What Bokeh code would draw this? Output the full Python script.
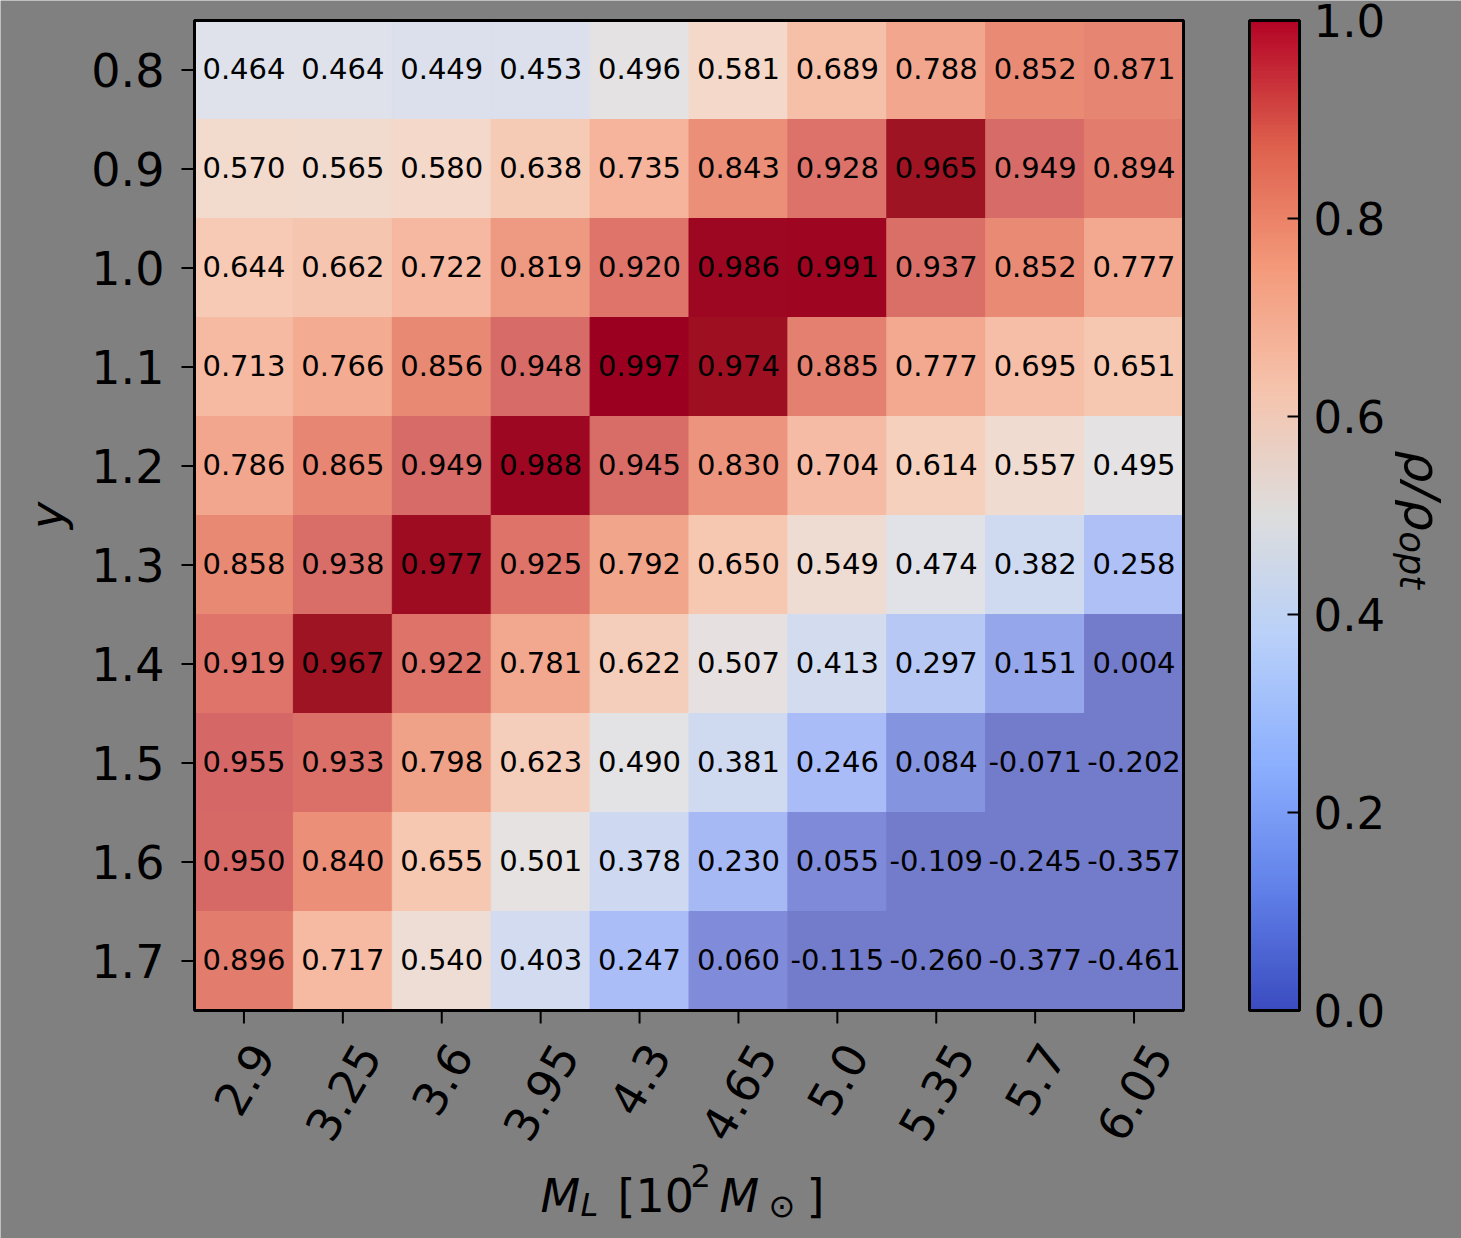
import math
import numpy as np
from bokeh.plotting import figure
from bokeh.models import (Range1d, FixedTicker, LinearColorMapper, ColorBar,
                          PrintfTickFormatter, ColumnDataSource)
from bokeh.core.properties import value
from bokeh.embed import file_html
from bokeh.resources import INLINE

# ---------------- data ----------------
ml_labels = ["2.9", "3.25", "3.6", "3.95", "4.3", "4.65", "5.0", "5.35", "5.7", "6.05"]
y_labels = ["0.8", "0.9", "1.0", "1.1", "1.2", "1.3", "1.4", "1.5", "1.6", "1.7"]

row_08 = [0.464, 0.464, 0.449, 0.453, 0.496, 0.581, 0.689, 0.788, 0.852, 0.871]
row_09 = [0.570, 0.565, 0.580, 0.638, 0.735, 0.843, 0.928, 0.965, 0.949, 0.894]
row_10 = [0.644, 0.662, 0.722, 0.819, 0.920, 0.986, 0.991, 0.937, 0.852, 0.777]
row_11 = [0.713, 0.766, 0.856, 0.948, 0.997, 0.974, 0.885, 0.777, 0.695, 0.651]
row_12 = [0.786, 0.865, 0.949, 0.988, 0.945, 0.830, 0.704, 0.614, 0.557, 0.495]
row_13 = [0.858, 0.938, 0.977, 0.925, 0.792, 0.650, 0.549, 0.474, 0.382, 0.258]
row_14 = [0.919, 0.967, 0.922, 0.781, 0.622, 0.507, 0.413, 0.297, 0.151, 0.004]
row_15 = [0.955, 0.933, 0.798, 0.623, 0.490, 0.381, 0.246, 0.084, -0.071, -0.202]
row_16 = [0.950, 0.840, 0.655, 0.501, 0.378, 0.230, 0.055, -0.109, -0.245, -0.357]
row_17 = [0.896, 0.717, 0.540, 0.403, 0.247, 0.060, -0.115, -0.260, -0.377, -0.461]
rows = [row_08, row_09, row_10, row_11, row_12, row_13, row_14, row_15, row_16, row_17]

cbar_ticks = [0.0, 0.2, 0.4, 0.6, 0.8, 1.0]

# ---------------- palettes (style) ----------------
def make_palette(anchors, n=256):
    xs = np.array([a[0] for a in anchors])
    cols = np.array([a[1] for a in anchors], dtype=float)
    t = np.linspace(0, 1, n)
    out = []
    for tt in t:
        r = np.interp(tt, xs, cols[:, 0])
        g = np.interp(tt, xs, cols[:, 1])
        b = np.interp(tt, xs, cols[:, 2])
        out.append("#%02x%02x%02x" % (int(round(r)), int(round(g)), int(round(b))))
    return out

coolwarm_anchors = [
    (0.0, (59, 76, 192)), (0.125, (98, 130, 234)), (0.25, (141, 176, 254)),
    (0.375, (184, 208, 249)), (0.5, (221, 221, 221)), (0.625, (245, 196, 173)),
    (0.75, (244, 154, 123)), (0.875, (222, 96, 77)), (1.0, (180, 4, 38)),
]
cell_anchors = [
    (0.0, (115, 124, 203)), (0.03, (115, 124, 203)), (0.055, (127, 139, 217)),
    (0.084, (133, 149, 222)), (0.151, (150, 168, 234)), (0.246, (171, 189, 247)),
    (0.297, (184, 200, 244)), (0.381, (207, 217, 240)), (0.413, (211, 220, 239)),
    (0.464, (223, 226, 235)), (0.50, (229, 226, 226)), (0.581, (244, 216, 201)),
    (0.65, (246, 200, 178)), (0.72, (246, 184, 160)), (0.79, (241, 166, 140)),
    (0.85, (234, 140, 118)), (0.885, (228, 128, 111)), (0.92, (222, 117, 106)),
    (0.957, (213, 104, 102)), (0.962, (160, 24, 34)), (1.0, (156, 0, 32)),
]
coolwarm = make_palette(coolwarm_anchors)
cell_pal = make_palette(cell_anchors)

# ---------------- layout constants (pixels) ----------------
W, H = 1461, 1238
LEFT, TOP = 194, 20          # heatmap frame corner
CW, CH = 98.9, 99.0          # cell size in px
ncol, nrow = len(ml_labels), len(y_labels)

x0 = -0.5 - LEFT / CW
y0 = -0.5 - TOP / CH
BG = "#808080"

p = figure(width=W, height=H,
           x_range=Range1d(x0, x0 + W / CW), y_range=Range1d(y0 + H / CH, y0),
           output_backend="svg", toolbar_location=None,
           x_axis_location=None, y_axis_location=None, min_border=0)
p.border_fill_color = BG
p.background_fill_color = BG
p.outline_line_color = None
p.grid.visible = False


def dx(px):
    return x0 + px / CW


def dy(py):
    return y0 + py / CH


FONT = value("DejaVu Sans")

# ---------------- heatmap ----------------
xs, ys, vs, ts = [], [], [], []
for r, row in enumerate(rows):
    for c, v in enumerate(row):
        xs.append(c)
        ys.append(r)
        vs.append(v)
        ts.append("%.3f" % v)
src = ColumnDataSource(dict(x=xs, y=ys, v=vs, t=ts))

cell_mapper = LinearColorMapper(palette=cell_pal, low=0.0, high=1.0,
                                low_color=cell_pal[0], high_color=cell_pal[-1])
p.rect(x="x", y="y", width=1, height=1, source=src,
       fill_color={"field": "v", "transform": cell_mapper},
       line_color={"field": "v", "transform": cell_mapper}, line_width=1)
p.text(x="x", y="y", text="t", source=src, text_align="center",
       text_baseline="middle", text_font=FONT, y_offset=-2,
       text_font_size=value("29px"), text_color="black")

# frame
p.rect(x=[(ncol - 1) / 2], y=[(nrow - 1) / 2], width=ncol, height=nrow,
       fill_color=None, line_color="black", line_width=3)

# ---------------- ticks ----------------
tick_len = 13
yt = list(range(nrow))
p.segment(x0=[dx(LEFT - tick_len)] * nrow, x1=[-0.5] * nrow, y0=yt, y1=yt,
          line_color="black", line_width=2)
p.text(x=[dx(LEFT - 30)] * nrow, y=yt, text=y_labels, text_align="right",
       text_baseline="middle", text_font=FONT, text_font_size=value("46px"),
       text_color="black")

xt = list(range(ncol))
p.segment(x0=xt, x1=xt, y0=[nrow - 0.5] * ncol, y1=[dy(TOP + nrow * CH + tick_len)] * ncol,
          line_color="black", line_width=2)

fs = 46
cw = {".": 0.318}
ang = math.pi / 3
lab_y = []
for s in ml_labels:
    w = sum(cw.get(ch, 0.636) for ch in s) * fs
    hbox = w * math.sin(ang) + 52 * math.cos(ang)
    lab_y.append(dy(1034 + hbox / 2))
p.text(x=xt, y=lab_y, text=ml_labels, angle=ang, text_align="center",
       text_baseline="middle", text_font=FONT, text_font_size=value("46px"),
       text_color="black")


# ---------------- axis titles ----------------
def lab(text, rx, ry, size, italic=False, angle=0.0, align="left", baseline="alphabetic"):
    p.text(x=[dx(rx)], y=[dy(ry)], text=[text], text_font=FONT,
           text_font_size=value(size),
           text_font_style="italic" if italic else "normal",
           text_color="black", angle=angle, text_align=align, text_baseline=baseline)


lab("M", 540, 1195, "46px", italic=True)
lab("L", 580, 1204, "32px", italic=True)
lab("[10", 617, 1195, "46px")
lab("2", 690, 1175, "32px")
lab("M", 719, 1195, "46px", italic=True)
lab("\u2299", 768, 1205, "32px")
lab("]", 806, 1195, "46px")

lab("y", 46, 515, "46px", italic=True, angle=math.pi / 2, align="center", baseline="middle")

lab("\u03c1/\u03c1", 1421, 450, "50px", italic=True, angle=-math.pi / 2)
lab("opt", 1411, 531, "35px", italic=True, angle=-math.pi / 2)

# ---------------- colorbar ----------------
cb_mapper = LinearColorMapper(palette=coolwarm, low=0.0, high=1.0)
cb = ColorBar(color_mapper=cb_mapper, ticker=FixedTicker(ticks=cbar_ticks),
              formatter=PrintfTickFormatter(format="%.1f"),
              width=50, height=990, padding=0, margin=0,
              location=(1249, H - (TOP + nrow * CH)),
              bar_line_color="black", bar_line_width=3,
              major_tick_line_color="black", major_tick_line_width=2,
              major_tick_in=12, major_tick_out=0, minor_tick_line_color=None,
              label_standoff=14, major_label_text_font="DejaVu Sans",
              major_label_text_font_size="45px", major_label_text_color="black",
              background_fill_color=None, border_line_color=None)
p.add_layout(cb, "center")

open("out.html", "w").write(file_html(p, INLINE))
